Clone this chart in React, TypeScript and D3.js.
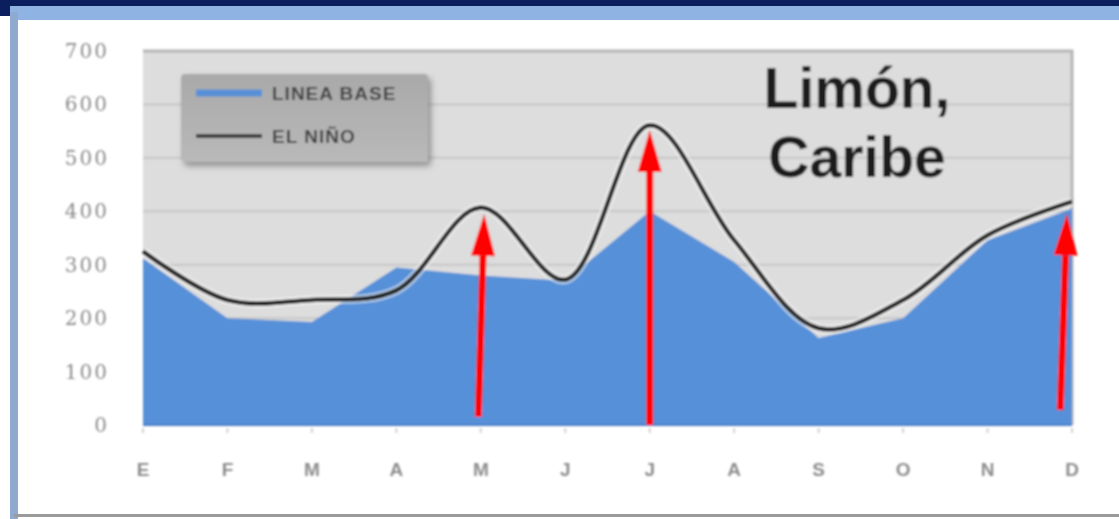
import * as d3 from 'd3';

const months = ['E', 'F', 'M', 'A', 'M', 'J', 'J', 'A', 'S', 'O', 'N', 'D'];
const lineaBase = [312, 200, 193, 295, 280, 270, 400, 305, 163, 200, 346, 405];
const elNino = [325, 234, 234, 252, 407, 272, 561, 346, 181, 234, 355, 418];
const yTicks = [0, 100, 200, 300, 400, 500, 600, 700];
const legendLabels = ['LINEA BASE', 'EL NIÑO'];
const titleLines = ['Limón,', 'Caribe'];
// arrows: [monthIndex, value] for tail and tip
const arrows: [number, number][][] = [
  [[3.97, 15], [4.04, 395]],
  [[6.0, 0], [6.0, 552]],
  [[10.86, 28], [10.94, 396]],
];

const W = 1119;
const H = 519;
const margin = { left: 143, right: 47, top: 51, bottom: 94 };

export default function App() {
  const x = d3.scaleLinear().domain([0, months.length - 1]).range([margin.left, W - margin.right]);
  const y = d3.scaleLinear().domain([0, 700]).range([H - margin.bottom, margin.top]);

  const area = d3.area<number>()
    .x((_, i) => x(i))
    .y0(y(0))
    .y1(d => y(d));

  const line = d3.line<number>()
    .x((_, i) => x(i))
    .y(d => y(d))
    .curve(d3.curveCatmullRom.alpha(0.5));

  const arrowShape = (a: [number, number][]) => {
    const [x0, y0] = [x(a[0][0]), y(a[0][1])];
    const [x1, y1] = [x(a[1][0]), y(a[1][1])];
    const len = Math.hypot(x1 - x0, y1 - y0);
    const ux = (x1 - x0) / len;
    const uy = (y1 - y0) / len;
    const headL = 42;
    const headW = 12;
    const bx = x1 - ux * headL;
    const by = y1 - uy * headL;
    const head = [
      [x1, y1],
      [bx - uy * headW, by + ux * headW],
      [bx + uy * headW, by - ux * headW],
    ].map(p => p.join(',')).join(' ');
    return { x0, y0, bx, by, head };
  };

  const x0 = margin.left;
  const x1 = W - margin.right;

  return (
    <svg width={W} height={H} style={{ position: 'fixed', left: 0, top: 0, display: 'block' }}
      fontFamily="'Liberation Sans', Arial, sans-serif">
      <defs>
        <filter id="blur" x="-5%" y="-5%" width="110%" height="110%">
          <feGaussianBlur stdDeviation="0.9" />
        </filter>
        <filter id="shadow" x="-10%" y="-20%" width="130%" height="150%">
          <feGaussianBlur in="SourceAlpha" stdDeviation="3" />
          <feOffset dx="3" dy="4" />
          <feComponentTransfer><feFuncA type="linear" slope="0.35" /></feComponentTransfer>
          <feMerge><feMergeNode /><feMergeNode in="SourceGraphic" /></feMerge>
        </filter>
        <linearGradient id="legendGrad" x1="0" y1="0" x2="0" y2="1">
          <stop offset="0%" stopColor="#a9a9a9" />
          <stop offset="100%" stopColor="#b9b9b9" />
        </linearGradient>
      </defs>

      {/* frame */}
      <rect x={0} y={0} width={W} height={H} fill="#ffffff" />
      <rect x={0} y={0} width={W} height={6} fill="#0b1f5e" />
      <rect x={0} y={0} width={11} height={16} fill="#0b1f5e" />
      <rect x={10} y={6} width={W - 10} height={14} fill="#8fb4e3" />
      <rect x={10} y={12} width={8} height={H - 12} fill="#8eaad0" />
      <rect x={18} y={20} width={1094} height={494} fill="#ffffff" />
      <rect x={14} y={514} width={W - 14} height={3} fill="#9a9a9a" />

      <g filter="url(#blur)">
        {/* plot background */}
        <rect x={x0} y={y(700)} width={x1 - x0} height={y(0) - y(700)} fill="#dddddd" />
        {yTicks.slice(1).map(t => (
          <line key={t} x1={x0} x2={x1} y1={y(t)} y2={y(t)} stroke="#c6c6c6" strokeWidth={2} />
        ))}
        <path d={`M${x0},${y(700)}H${x1}V${y(0)}`} fill="none" stroke="#b5b5b5" strokeWidth={3} />

        {/* area */}
        <path d={area(lineaBase) || ''} fill="#5790d8" />
        <line x1={x0} x2={x1} y1={y(0)} y2={y(0)} stroke="#4a7fc8" strokeWidth={2} />

        {/* x ticks */}
        {months.map((_, i) => (
          <line key={i} x1={x(i)} x2={x(i)} y1={y(0) + 3} y2={y(0) + 8} stroke="#d0d0d0" strokeWidth={2} />
        ))}

        {/* el niño line */}
        <path d={line(elNino) || ''} fill="none" stroke="#ffffff" strokeOpacity={0.55} strokeWidth={9} />
        <path d={line(elNino) || ''} fill="none" stroke="#222222" strokeWidth={4.5} />

        {/* y axis labels */}
        {yTicks.map(t => (
          <text key={t} x={109} y={y(t)} dy="0.35em" textAnchor="end" fontSize={20} letterSpacing={2}
            fill="#8a8a8a" fontFamily="'DejaVu Serif', serif">{t}</text>
        ))}

        {/* x axis labels */}
        {months.map((m, i) => (
          <text key={i} x={x(i)} y={469} dy="0.35em" textAnchor="middle" fontSize={19}
            fontWeight="bold" fill="#8c8c8c">{m}</text>
        ))}

        {/* legend */}
        <g filter="url(#shadow)">
          <rect x={181} y={74} width={247} height={88} rx={4} fill="url(#legendGrad)" />
        </g>
        <line x1={196} x2={262} y1={93} y2={93} stroke="#5790d8" strokeWidth={7} />
        <line x1={196} x2={262} y1={136} y2={136} stroke="#3a3a3a" strokeWidth={4} />
        {legendLabels.map((l, i) => (
          <text key={l} x={272} y={93 + i * 43} dy="0.35em" fontSize={19} letterSpacing={1}
            fontWeight="bold" fill="#3d3d3d">{l}</text>
        ))}

        {/* title */}
        {titleLines.map((t, i) => (
          <text key={t} x={857} y={108 + i * 69} textAnchor="middle" fontSize={57}
            fontWeight="bold" fill="#1b1b1b">{t}</text>
        ))}

        {/* arrows */}
        {arrows.map((a, i) => {
          const s = arrowShape(a);
          return (
            <g key={i}>
              <line x1={s.x0} y1={s.y0} x2={s.bx} y2={s.by} stroke="#ff0000" strokeWidth={7} />
              <polygon points={s.head} fill="#ff0000" />
            </g>
          );
        })}
      </g>
    </svg>
  );
}
